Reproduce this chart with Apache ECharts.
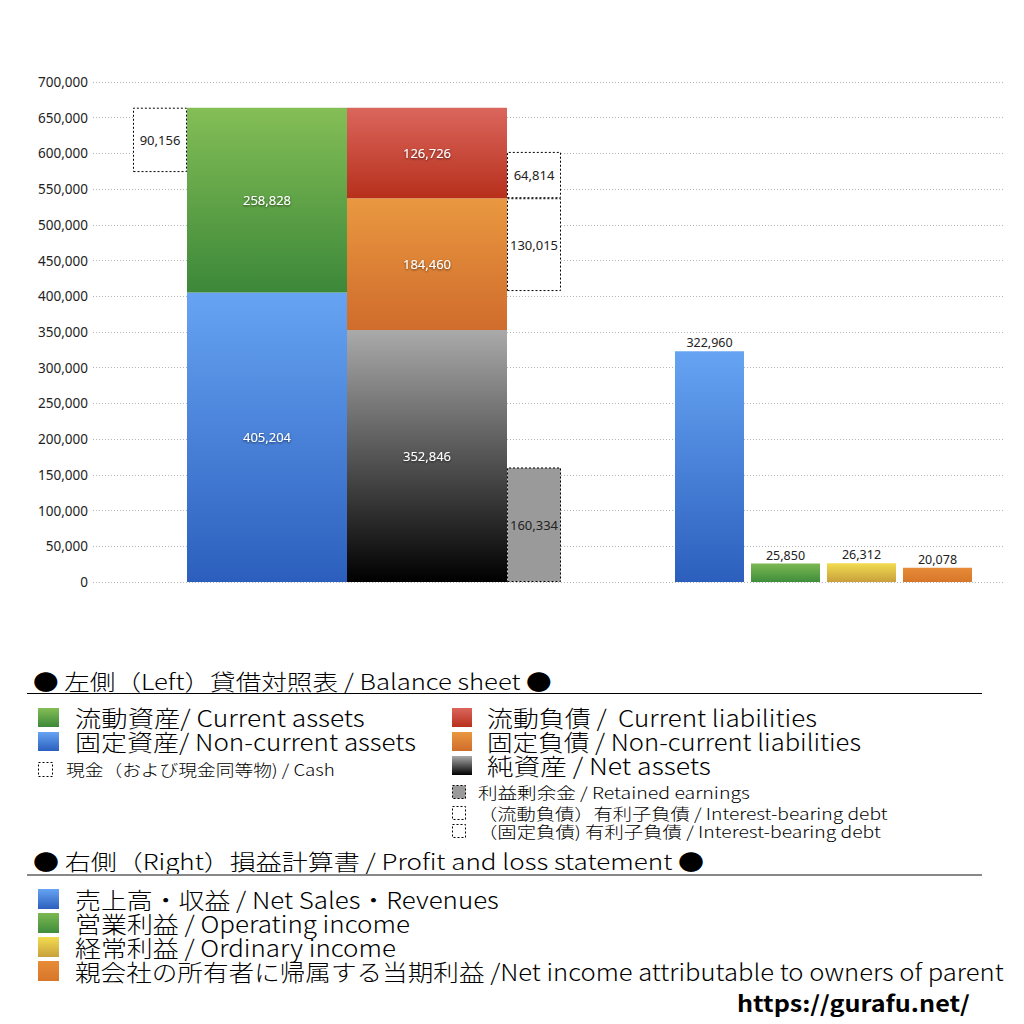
<!DOCTYPE html>
<html>
<head>
<meta charset="utf-8">
<script src="https://cdn.jsdelivr.net/npm/echarts@6/dist/echarts.min.js"></script>
<style>html,body{margin:0;padding:0;background:#fff;}#c{width:1024px;height:1024px;}</style>
</head>
<body>
<div id="c"></div>
<script>
// ---- Data ----
const bsCategories = ['貸借対照表'];
const plCategories = ['売上高・収益', '営業利益', '経常利益', '親会社の所有者に帰属する当期利益'];
const currentAssets = [258828];
const nonCurrentAssets = [405204];
const cash = [90156];
const currentLiabilities = [126726];
const nonCurrentLiabilities = [184460];
const netAssets = [352846];
const retainedEarnings = [160334];
const currentDebt = [64814];
const nonCurrentDebt = [130015];
const plValues = [322960, 25850, 26312, 20078];
const yTicks = [0, 50000, 100000, 150000, 200000, 250000, 300000, 350000, 400000, 450000, 500000, 550000, 600000, 650000, 700000];

// ---- Styles ----
function grad(top, bottom) {
  return new echarts.graphic.LinearGradient(0, 0, 0, 1, [{offset: 0, color: top}, {offset: 1, color: bottom}]);
}
const C = {
  blue: ['#66a4f3', '#2c5fbd'],
  green: ['#84be56', '#3c8839'],
  red: ['#db665d', '#b7301c'],
  orange: ['#e99840', '#d06c2c'],
  gray: ['#aaaaaa', '#000000'],
  plGreen: ['#7cb852', '#3f8d3c'],
  yellow: ['#f2dc50', '#c8a03c'],
  plOrange: ['#e88c38', '#d6762a']
};
const plColors = [C.blue, C.plGreen, C.yellow, C.plOrange];
const fmt = v => Number(v).toLocaleString('en-US');
const whiteLabel = {
  show: true, position: 'inside', color: '#fff', fontSize: 13, fontFamily: 'Noto Sans',
  textShadowColor: 'rgba(0,0,0,0.6)', textShadowBlur: 2, textShadowOffsetY: 1,
  formatter: p => fmt(p.value)
};
const blackLabel = {
  show: true, position: 'inside', color: '#222', fontSize: 13, fontFamily: 'Noto Sans',
  formatter: p => fmt(p.value)
};
const dashed = {color: '#fff', borderColor: '#000', borderWidth: 1, borderType: [2, 2]};
const hidden = {color: 'rgba(0,0,0,0)'};

// derived stack bases
const assetsTotal = nonCurrentAssets.map((v, i) => v + currentAssets[i]);
const cashBase = assetsTotal.map((v, i) => v - cash[i]);
const debtGap = netAssets.map((v, i) => v + nonCurrentLiabilities[i] - nonCurrentDebt[i] - retainedEarnings[i]);

const yMax = yTicks[yTicks.length - 1];
const yInt = yTicks[1] - yTicks[0];

const chart = echarts.init(document.getElementById('c'), null, {renderer: 'svg'});

// ---- Legend texts ----
const measureCtx = document.createElement('canvas').getContext('2d');
function fitText(str, x, y, right, size, opts) {
  opts = opts || {};
  const family = opts.family || '"Noto Sans CJK JP"';
  const weight = opts.weight || '300';
  const font = weight + ' ' + size + 'px ' + family;
  measureCtx.font = font;
  const w = measureCtx.measureText(str).width;
  return {
    type: 'text', x: x, y: y, scaleX: (right - x) / w, silent: true,
    style: {text: str, x: 0, y: 0, font: font, fill: opts.fill || '#000', align: 'left', verticalAlign: 'middle'}
  };
}
function sq(x, y, w, h, colors) {
  return {type: 'rect', silent: true, shape: {x: x, y: y, width: w, height: h}, style: {fill: grad(colors[0], colors[1])}};
}
function dsq(x, y, w, h, fill) {
  return {type: 'rect', silent: true, shape: {x: x + 0.5, y: y + 0.5, width: w, height: h},
    style: {fill: fill, stroke: '#000', lineWidth: 1, lineDash: [2, 2]}};
}
const graphics = [
  fitText('● 左側（Left）貸借対照表 / Balance sheet ●', 33, 680, 552, 22),
  {type: 'line', silent: true, shape: {x1: 27, y1: 693.5, x2: 982, y2: 693.5}, style: {stroke: '#000', lineWidth: 1}},
  sq(38, 708, 21, 19, C.green), fitText('流動資産/ Current assets', 75, 717, 365, 23),
  sq(38, 732, 21, 19, C.blue), fitText('固定資産/ Non-current assets', 75, 741, 416, 23),
  dsq(38, 762, 14, 14, '#fff'), fitText('現金（および現金同等物) / Cash', 66, 769, 335, 16),
  sq(452, 708, 20, 19, C.red), fitText('流動負債 /  Current liabilities', 487, 717, 817, 23),
  sq(452, 732, 20, 19, C.orange), fitText('固定負債 / Non-current liabilities', 487, 741, 861, 23),
  sq(452, 756, 20, 19, C.gray), fitText('純資産 / Net assets', 487, 765, 711, 23),
  dsq(452, 785, 13, 13, '#9a9a9a'), fitText('利益剰余金 / Retained earnings', 478, 792, 750, 16),
  dsq(452, 806, 13, 13, '#fff'), fitText('（流動負債）有利子負債 / Interest-bearing debt', 478, 813, 888, 16),
  dsq(452, 824, 13, 13, '#fff'), fitText('（固定負債) 有利子負債 / Interest-bearing debt', 478, 831, 881, 16),
  fitText('● 右側（Right）損益計算書 / Profit and loss statement ●', 33, 860, 704, 22),
  {type: 'line', silent: true, shape: {x1: 27, y1: 875, x2: 982, y2: 875}, style: {stroke: '#888', lineWidth: 2}},
  sq(38, 889, 21, 20, C.blue), fitText('売上高・収益 / Net Sales・Revenues', 75, 899, 499, 23),
  sq(38, 913, 21, 20, C.plGreen), fitText('営業利益 / Operating income', 75, 923, 410, 23),
  sq(38, 937, 21, 20, C.yellow), fitText('経常利益 / Ordinary income', 75, 947, 396, 23),
  sq(38, 961, 21, 20, C.plOrange), fitText('親会社の所有者に帰属する当期利益 /Net income attributable to owners of parent', 75, 971, 1004, 23),
  fitText('https://gurafu.net/', 737, 1003, 970, 22, {weight: 'bold'})
];

const yBase = {type: 'value', min: 0, max: yMax, interval: yInt};
const option = {
  animation: false,
  backgroundColor: '#fff',
  grid: [
    {left: 93, right: 19, top: 82, height: 500},
    {left: 133, width: 428, top: 82, height: 500},
    {left: 671.5, width: 304, top: 82, height: 500}
  ],
  xAxis: [
    {type: 'category', gridIndex: 0, data: [''], show: false},
    {type: 'category', gridIndex: 1, data: bsCategories, show: false},
    {type: 'category', gridIndex: 2, data: plCategories, show: false}
  ],
  yAxis: [
    Object.assign({}, yBase, {
      gridIndex: 0,
      axisLine: {show: false}, axisTick: {show: false},
      axisLabel: {margin: 5, color: '#222', fontSize: 13.5, fontFamily: 'Noto Sans', formatter: v => fmt(v)},
      splitLine: {show: true, lineStyle: {type: [1, 2], color: '#b5b5b5', width: 1}}
    }),
    Object.assign({}, yBase, {gridIndex: 1, show: false, splitLine: {show: false}}),
    Object.assign({}, yBase, {gridIndex: 2, show: false, splitLine: {show: false}})
  ],
  graphic: graphics,
  series: [
    {name: 'cashBase', type: 'bar', xAxisIndex: 1, yAxisIndex: 1, stack: 'cash', barWidth: 54, barGap: '0%', data: cashBase, itemStyle: hidden, silent: true},
    {name: '現金', type: 'bar', xAxisIndex: 1, yAxisIndex: 1, stack: 'cash', barWidth: 54, barGap: '0%', data: cash, itemStyle: dashed, label: blackLabel},
    {name: '固定資産', type: 'bar', xAxisIndex: 1, yAxisIndex: 1, stack: 'assets', barWidth: 160, barGap: '0%', data: nonCurrentAssets, itemStyle: {color: grad(C.blue[0], C.blue[1])}, label: whiteLabel},
    {name: '流動資産', type: 'bar', xAxisIndex: 1, yAxisIndex: 1, stack: 'assets', barWidth: 160, barGap: '0%', data: currentAssets, itemStyle: {color: grad(C.green[0], C.green[1])}, label: whiteLabel},
    {name: '純資産', type: 'bar', xAxisIndex: 1, yAxisIndex: 1, stack: 'liab', barWidth: 160, barGap: '0%', data: netAssets, itemStyle: {color: grad(C.gray[0], C.gray[1])}, label: whiteLabel},
    {name: '固定負債', type: 'bar', xAxisIndex: 1, yAxisIndex: 1, stack: 'liab', barWidth: 160, barGap: '0%', data: nonCurrentLiabilities, itemStyle: {color: grad(C.orange[0], C.orange[1])}, label: whiteLabel},
    {name: '流動負債', type: 'bar', xAxisIndex: 1, yAxisIndex: 1, stack: 'liab', barWidth: 160, barGap: '0%', data: currentLiabilities, itemStyle: {color: grad(C.red[0], C.red[1])}, label: whiteLabel},
    {name: '利益剰余金', type: 'bar', xAxisIndex: 1, yAxisIndex: 1, stack: 'debt', barWidth: 54, barGap: '0%', data: retainedEarnings, itemStyle: Object.assign({}, dashed, {color: '#9a9a9a'}), label: blackLabel},
    {name: 'debtGap', type: 'bar', xAxisIndex: 1, yAxisIndex: 1, stack: 'debt', barWidth: 54, barGap: '0%', data: debtGap, itemStyle: hidden, silent: true},
    {name: '（固定負債）有利子負債', type: 'bar', xAxisIndex: 1, yAxisIndex: 1, stack: 'debt', barWidth: 54, barGap: '0%', data: nonCurrentDebt, itemStyle: dashed, label: blackLabel},
    {name: '（流動負債）有利子負債', type: 'bar', xAxisIndex: 1, yAxisIndex: 1, stack: 'debt', barWidth: 54, barGap: '0%', data: currentDebt, itemStyle: dashed, label: blackLabel},
    {
      name: '損益計算書', type: 'bar', xAxisIndex: 2, yAxisIndex: 2, barWidth: 69,
      data: plValues.map((v, i) => ({value: v, itemStyle: {color: grad(plColors[i][0], plColors[i][1])}})),
      label: {show: true, position: 'top', distance: 2, color: '#222', fontSize: 12.5, fontFamily: 'Noto Sans', formatter: p => fmt(p.value)}
    }
  ]
};
chart.setOption(option);
</script>
</body>
</html>
